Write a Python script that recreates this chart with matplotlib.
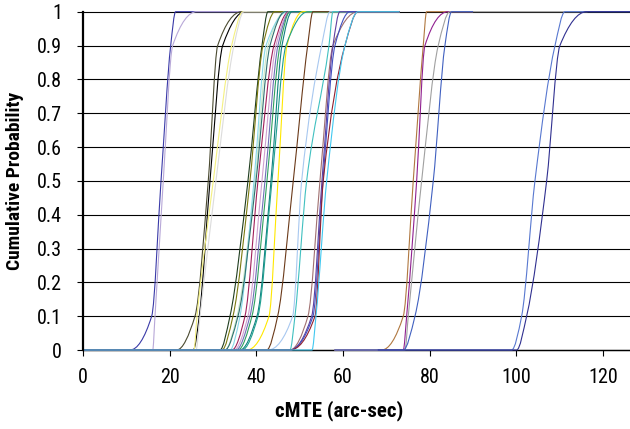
import numpy as np
import matplotlib
matplotlib.use('Agg')
import matplotlib.pyplot as plt
from matplotlib.path import Path
from matplotlib.patches import PathPatch

plt.rcParams['font.family'] = ['Roboto Condensed', 'DejaVu Sans']

#--------------- Data ---------------------------------------------------------
# each curve: x where it leaves 0, crosses 0.1, 0.5, 0.9, and where it reaches 1
probs = [0.0, 0.1, 0.5, 0.9, 1.0]

curves = [
    # colour,    x at probs,                               start, end
    ('#3A3AA8', [10.84, 15.85, 18.00, 20.23, 21.38], 0, 73),
    ('#B8A8D8', [16.08, 16.61, 18.52, 20.69, 26.23], 0, 73),
    ('#4A4A30', [21.61, 25.84, 28.90, 31.07, 36.61], 0, 73),
    ('#000000', [25.44, 26.83, 29.30, 32.23, 37.37], 0, 73),
    ('#F4F080', [25.60, 26.30, 30.06, 34.30, 36.90], 0, 73),
    ('#DCDCDC', [26.07, 26.99, 30.68, 34.83, 37.14], 0, 73),
    ('#1F3D1F', [31.60, 33.91, 38.06, 41.29, 42.68], 0, 73),
    ('#7A7A10', [32.06, 34.60, 38.52, 41.52, 44.29], 0, 73),
    ('#C8E8C8', [32.76, 35.52, 39.68, 42.68, 46.60], 0, 73),
    ('#88D8E8', [33.91, 36.22, 39.45, 42.21, 47.29], 0, 73),
    ('#2E7070', [32.76, 35.76, 39.91, 43.14, 46.60], 0, 73),
    ('#A0205A', [34.37, 37.37, 40.37, 44.06, 47.52], 0, 73),
    ('#D0A0D0', [34.83, 38.06, 41.29, 44.52, 47.75], 0, 73),
    ('#7070B8', [35.29, 38.52, 41.98, 44.98, 47.75], 0, 73),
    ('#30A060', [35.76, 38.98, 42.44, 45.44, 47.75], 0, 73),
    ('#108080', [36.22, 40.14, 43.37, 45.91, 48.21], 0, 73),
    ('#FFE800', [37.83, 42.91, 44.98, 47.06, 50.75], 0, 73),
    ('#20A090', [36.68, 40.37, 43.60, 46.83, 51.90], 0, 73),
    ('#6B3A1A', [42.38, 44.91, 48.51, 51.83, 53.06], 0, 73),
    ('#A8C8F0', [42.68, 48.37, 50.45, 55.06, 57.00], 0, 73),
    ('#40C0C0', [47.75, 48.90, 51.60, 56.75, 57.67], 0, 73),
    ('#A07070', [47.75, 51.90, 54.67, 57.67, 63.44], 0, 73),
    ('#6040A0', [47.75, 52.76, 55.13, 57.67, 59.28], 0, 73),
    ('#4050C0', [47.75, 53.06, 55.36, 58.13, 61.59], 0, 73),
    ('#902030', [47.75, 53.52, 55.43, 60.44, 63.44], 0, 73),
    ('#40C8F0', [52.83, 53.75, 56.22, 60.44, 63.44], 0, 73),
    ('#B07840', [68.90, 73.89, 76.19, 78.50, 79.28], 58, 90),
    ('#902090', [73.89, 74.67, 76.98, 78.89, 84.20], 58, 90),
    ('#A0A0A0', [74.28, 75.04, 78.13, 81.96, 84.66], 58, 116.4),
    ('#4060C0', [73.89, 76.59, 80.81, 83.50, 85.05], 58, 90),
    ('#5878D0', [98.89, 101.20, 104.27, 108.90, 111.19], 68, 127),
    ('#303090', [100.05, 102.35, 106.97, 110.03, 116.19], 68, 127),
]

xticks = [0, 20, 40, 60, 80, 100, 120]
yticks = [0, 0.1, 0.2, 0.3, 0.4, 0.5, 0.6, 0.7, 0.8, 0.9, 1.0]
ylabels = ['0', '0.1', '0.2', '0.3', '0.4', '0.5', '0.6', '0.7', '0.8', '0.9', '1']


def smooth_path(xs, ys):
    # monotone (pchip style) cubic through the points, drawn as bezier segments
    x = np.asarray(xs, float)
    y = np.asarray(ys, float)
    h = np.diff(x)
    m = np.diff(y) / h
    d = np.zeros_like(x)
    for k in range(1, len(x) - 1):
        if m[k - 1] * m[k] > 0:
            w1 = 2 * h[k] + h[k - 1]
            w2 = h[k] + 2 * h[k - 1]
            d[k] = (w1 + w2) / (w1 / m[k - 1] + w2 / m[k])
    verts = [(x[0], y[0])]
    codes = [Path.MOVETO]
    for k in range(len(x) - 1):
        verts += [(x[k] + h[k] / 3, y[k] + d[k] * h[k] / 3),
                  (x[k + 1] - h[k] / 3, y[k + 1] - d[k + 1] * h[k] / 3),
                  (x[k + 1], y[k + 1])]
        codes += [Path.CURVE4] * 3
    return Path(verts, codes)


# ----- Plot ------------------------------------------------------------------

fig = plt.figure(figsize=(6.3, 4.29), dpi=100)
ax = fig.add_axes([83/630, 79/429, 547/630, 338.3/429])

ax.set_xlim(0, 126.2)
ax.set_ylim(0, 1)

for color, xs, start, end in curves:
    px = [start] + xs + [end]
    py = [0.0] + probs + [1.0]
    patch = PathPatch(smooth_path(px, py), fill=False, edgecolor=color,
                      linewidth=0.8, clip_on=False, zorder=3)
    ax.add_patch(patch)

ax.set_xticks(xticks)
ax.set_xticklabels([str(t) for t in xticks])
ax.set_yticks(yticks)
ax.set_yticklabels(ylabels)

ax.yaxis.grid(True, color='black', linewidth=0.8)
for line in ax.get_ygridlines():
    line.set_clip_on(False)
ax.set_axisbelow(True)

for s in ['top', 'right']:
    ax.spines[s].set_visible(False)
ax.spines['left'].set_linewidth(1.6)
ax.spines['left'].set_zorder(5)
ax.spines['bottom'].set_linewidth(1.0)

ax.tick_params(axis='both', direction='out', length=4, width=0.8, labelsize=14.5)
ax.tick_params(axis='y', pad=11)
ax.tick_params(axis='x', pad=9)

ax.set_xlabel('cMTE (arc-sec)', fontsize=15, fontweight='bold')
ax.set_ylabel('Cumulative Probability', fontsize=14, fontweight='bold')
ax.xaxis.set_label_coords((339 - 83) / 547, -0.15)
ax.yaxis.set_label_coords(-0.108, 0.5)

plt.savefig('out.png', dpi=100)
